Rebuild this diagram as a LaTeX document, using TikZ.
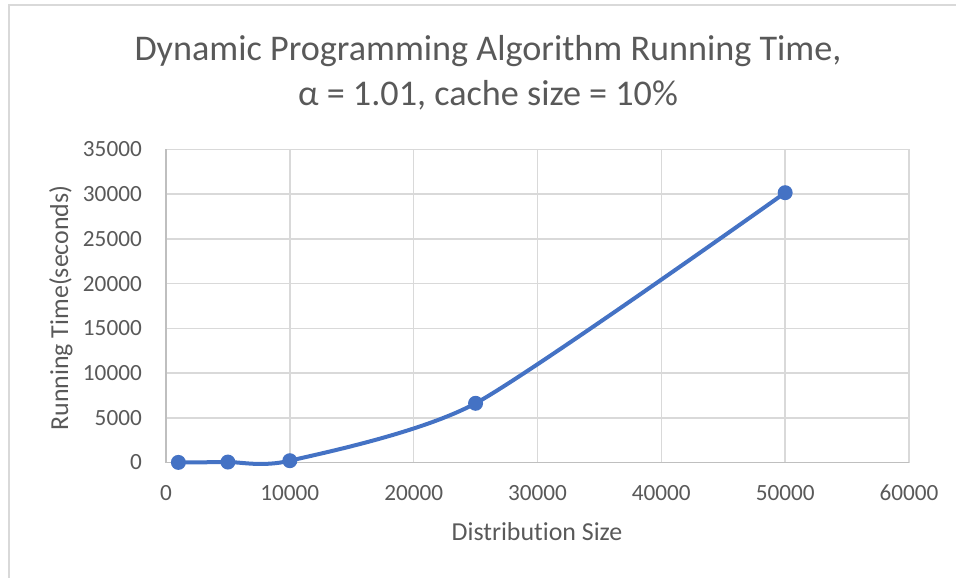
\documentclass[tikz,border=0pt]{standalone}
\usepackage{fontspec}
\setmainfont{Carlito}[Ligatures=NoCommon]
\usepackage{xcolor}
\definecolor{labelgray}{HTML}{595959}
\definecolor{gridgray}{HTML}{D9D9D9}
\definecolor{axisgray}{HTML}{BFBFBF}
\definecolor{seriesblue}{HTML}{4472C4}
\tikzset{
  gridline/.style={gridgray, line width=1.5bp},
  ticklabel/.style={inner sep=0, font=\fontsize{23.3}{28}\selectfont},
  axistitle/.style={inner sep=0, anchor=base, font=\fontsize{26}{31}\selectfont},
  charttitle/.style={inner sep=0, anchor=base, font=\fontsize{36.3}{44}\selectfont}
}
\begin{document}
\begin{tikzpicture}[x=1bp, y=-1bp, text=labelgray]
  \useasboundingbox (0,0) rectangle (956,578);
  % chart frame
  \draw[gridline] (9,578) -- (9,5) -- (956,5);
  % title
  \node[charttitle] (title1) at (488,61) {Dynamic Programming Algorithm Running Time,};
  \node[charttitle] (title2) at (488,106) {α = 1.01, cache size = 10\%};
  % plot area, data in thousands
  \coordinate (O) at (166,462.5);
  \begin{scope}[shift={(O)}, x=12.383bp, y=8.943bp]
    \foreach \y in {5,10,...,35}
      \draw[gridline] (0,\y) -- (60,\y);
    \foreach \x in {10,20,...,60}
      \draw[gridline] (\x,0) -- (\x,35);
    \draw[axisgray, line width=1.5bp] (0,35) -- (0,0) -- (60,0);
    \foreach \y/\v in {0/0,5/5000,10/10000,15/15000,20/20000,25/25000,30/30000,35/35000}
      \node[ticklabel, anchor=east, xshift=-24bp] (ylab\y) at (0,\y) {\v};
    \foreach \x/\v in {0/0,10/10000,20/20000,30/30000,40/40000,50/50000,60/60000}
      \node[ticklabel, anchor=north, yshift=-22.5bp] (xlab\x) at (\x,0) {\v};
    % series
    \coordinate (d1) at (1,0.01);
    \coordinate (d2) at (5,0.05);
    \coordinate (d3) at (10,0.2);
    \coordinate (d4) at (25,6.62);
    \coordinate (d5) at (50,30.17);
    \draw[seriesblue, line width=4bp, line join=round]
      plot[smooth, tension=0.4] coordinates {(d1) (d2) (d3) (d4) (d5)};
    \foreach \i in {1,...,5}
      \fill[seriesblue] (d\i) circle[radius=7.5bp];
  \end{scope}
  % axis titles
  \node[axistitle] (xtitle) at (537,540) {Distribution Size};
  \node[axistitle, rotate=90] (ytitle) at (68,308) {Running Time(seconds)};
\end{tikzpicture}
\end{document}
